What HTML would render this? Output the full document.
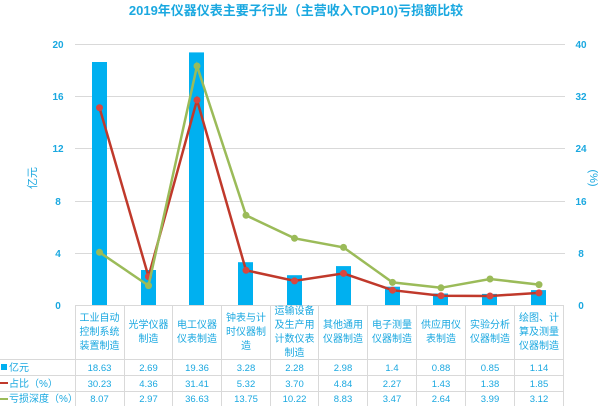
<!DOCTYPE html>
<html><head><meta charset="utf-8"><style>
body{margin:0;background:#fff}
svg{display:block}
text{font-family:"Liberation Sans","Noto Sans CJK SC",sans-serif;fill:#1aa8e0}
</style></head><body>
<svg width="600" height="406" viewBox="0 0 600 406" xmlns="http://www.w3.org/2000/svg">
<text x="296" y="15" font-size="13" font-weight="bold" text-anchor="middle">2019年仪器仪表主要子行业（主营收入TOP10)亏损额比较</text>
<g stroke="#d9d9d9" stroke-width="1">
<line x1="75" y1="44.5" x2="565" y2="44.5"/>
<line x1="75" y1="96.5" x2="565" y2="96.5"/>
<line x1="75" y1="148.5" x2="565" y2="148.5"/>
<line x1="75" y1="201.5" x2="565" y2="201.5"/>
<line x1="75" y1="253.5" x2="565" y2="253.5"/>
</g>
<g font-size="10" font-weight="bold" text-anchor="middle">
<text x="58" y="48">20</text><text x="58" y="100">16</text><text x="58" y="152">12</text><text x="58" y="205">8</text><text x="58" y="257">4</text><text x="58" y="309">0</text>
<text x="581" y="48">40</text><text x="581" y="100">32</text><text x="581" y="152">24</text><text x="581" y="205">16</text><text x="581" y="257">8</text><text x="581" y="309">0</text>
</g>
<text transform="translate(36,178) rotate(-90)" font-size="11" text-anchor="middle">亿元</text>
<text transform="translate(590,178) rotate(90)" font-size="11" text-anchor="middle">(%)</text>
<g fill="#00b0f0">
<rect x="92" y="62" width="15" height="243"/>
<rect x="141" y="270" width="15" height="35"/>
<rect x="189" y="52.4" width="15" height="252.6"/>
<rect x="238" y="262.2" width="15" height="42.8"/>
<rect x="287" y="275.2" width="15" height="29.8"/>
<rect x="336" y="266.1" width="15" height="38.9"/>
<rect x="385" y="286.7" width="15" height="18.3"/>
<rect x="433" y="293.5" width="15" height="11.5"/>
<rect x="482" y="293.9" width="15" height="11.1"/>
<rect x="531" y="290.1" width="15" height="14.9"/>
</g>
<polyline fill="none" stroke="#c0392b" stroke-width="2.5" points="99.5,107.7 148.5,276.6 197,100 246,270.3 294.5,280.9 343.5,273.4 392.5,290.2 441,295.7 490,296 539,292.9"/>
<g fill="#d9473f">
<circle cx="99.5" cy="107.7" r="3.5"/><circle cx="148.5" cy="276.6" r="3.5"/><circle cx="197" cy="100" r="3.5"/><circle cx="246" cy="270.3" r="3.5"/><circle cx="294.5" cy="280.9" r="3.5"/><circle cx="343.5" cy="273.4" r="3.5"/><circle cx="392.5" cy="290.2" r="3.5"/><circle cx="441" cy="295.7" r="3.5"/><circle cx="490" cy="296" r="3.5"/><circle cx="539" cy="292.9" r="3.5"/>
</g>
<polyline fill="none" stroke="#9bbb59" stroke-width="2.5" points="99.5,252.3 148.5,285.6 197,66 246,215.3 294.5,238.3 343.5,247.4 392.5,282.4 441,287.8 490,279 539,284.6"/>
<g fill="#9bbb59">
<circle cx="99.5" cy="252.3" r="3.5"/><circle cx="148.5" cy="285.6" r="3.5"/><circle cx="197" cy="66" r="3.5"/><circle cx="246" cy="215.3" r="3.5"/><circle cx="294.5" cy="238.3" r="3.5"/><circle cx="343.5" cy="247.4" r="3.5"/><circle cx="392.5" cy="282.4" r="3.5"/><circle cx="441" cy="287.8" r="3.5"/><circle cx="490" cy="279" r="3.5"/><circle cx="539" cy="284.6" r="3.5"/>
</g>
<g stroke="#d9d9d9" stroke-width="1">
<line x1="75" y1="305.5" x2="563" y2="305.5"/>
<line x1="0" y1="359.5" x2="563" y2="359.5"/>
<line x1="0" y1="375.5" x2="563" y2="375.5"/>
<line x1="0" y1="391.5" x2="563" y2="391.5"/>
<line x1="75.5" y1="305" x2="75.5" y2="406"/><line x1="124.5" y1="305" x2="124.5" y2="406"/><line x1="172.5" y1="305" x2="172.5" y2="406"/><line x1="221.5" y1="305" x2="221.5" y2="406"/><line x1="270.5" y1="305" x2="270.5" y2="406"/><line x1="318.5" y1="305" x2="318.5" y2="406"/><line x1="367.5" y1="305" x2="367.5" y2="406"/><line x1="416.5" y1="305" x2="416.5" y2="406"/><line x1="465.5" y1="305" x2="465.5" y2="406"/><line x1="514.5" y1="305" x2="514.5" y2="406"/><line x1="563.5" y1="305" x2="563.5" y2="406"/>
</g>
<g font-size="10" text-anchor="middle">
<text x="99.5" y="321">工业自动</text><text x="99.5" y="335">控制系统</text><text x="99.5" y="349">装置制造</text>
<text x="148.5" y="328">光学仪器</text><text x="148.5" y="342">制造</text>
<text x="197" y="328">电工仪器</text><text x="197" y="342">仪表制造</text>
<text x="246" y="321">钟表与计</text><text x="246" y="335">时仪器制</text><text x="246" y="349">造</text>
<text x="294.5" y="314">运输设备</text><text x="294.5" y="328">及生产用</text><text x="294.5" y="342">计数仪表</text><text x="294.5" y="356">制造</text>
<text x="343" y="328">其他通用</text><text x="343" y="342">仪器制造</text>
<text x="392" y="328">电子测量</text><text x="392" y="342">仪器制造</text>
<text x="441" y="328">供应用仪</text><text x="441" y="342">表制造</text>
<text x="490" y="328">实验分析</text><text x="490" y="342">仪器制造</text>
<text x="539" y="321">绘图、计</text><text x="539" y="335">算及测量</text><text x="539" y="349">仪器制造</text>
</g>
<g font-size="9.5" text-anchor="middle">
<text x="99.5" y="371">18.63</text><text x="148.5" y="371">2.69</text><text x="197" y="371">19.36</text><text x="246" y="371">3.28</text><text x="294.5" y="371">2.28</text><text x="343" y="371">2.98</text><text x="392" y="371">1.4</text><text x="441" y="371">0.88</text><text x="490" y="371">0.85</text><text x="539" y="371">1.14</text>
<text x="99.5" y="387">30.23</text><text x="148.5" y="387">4.36</text><text x="197" y="387">31.41</text><text x="246" y="387">5.32</text><text x="294.5" y="387">3.70</text><text x="343" y="387">4.84</text><text x="392" y="387">2.27</text><text x="441" y="387">1.43</text><text x="490" y="387">1.38</text><text x="539" y="387">1.85</text>
<text x="99.5" y="402">8.07</text><text x="148.5" y="402">2.97</text><text x="197" y="402">36.63</text><text x="246" y="402">13.75</text><text x="294.5" y="402">10.22</text><text x="343" y="402">8.83</text><text x="392" y="402">3.47</text><text x="441" y="402">2.64</text><text x="490" y="402">3.99</text><text x="539" y="402">3.12</text>
</g>
<rect x="1" y="364" width="6" height="6" fill="#00b0f0"/>
<line x1="0" y1="383" x2="8" y2="383" stroke="#c0392b" stroke-width="2"/>
<line x1="0" y1="399" x2="8" y2="399" stroke="#9bbb59" stroke-width="2"/>
<g font-size="10">
<text x="9" y="371">亿元</text><text x="9" y="387">占比（%）</text><text x="9" y="402">亏损深度（%）</text>
</g>
</svg>
</body></html>
